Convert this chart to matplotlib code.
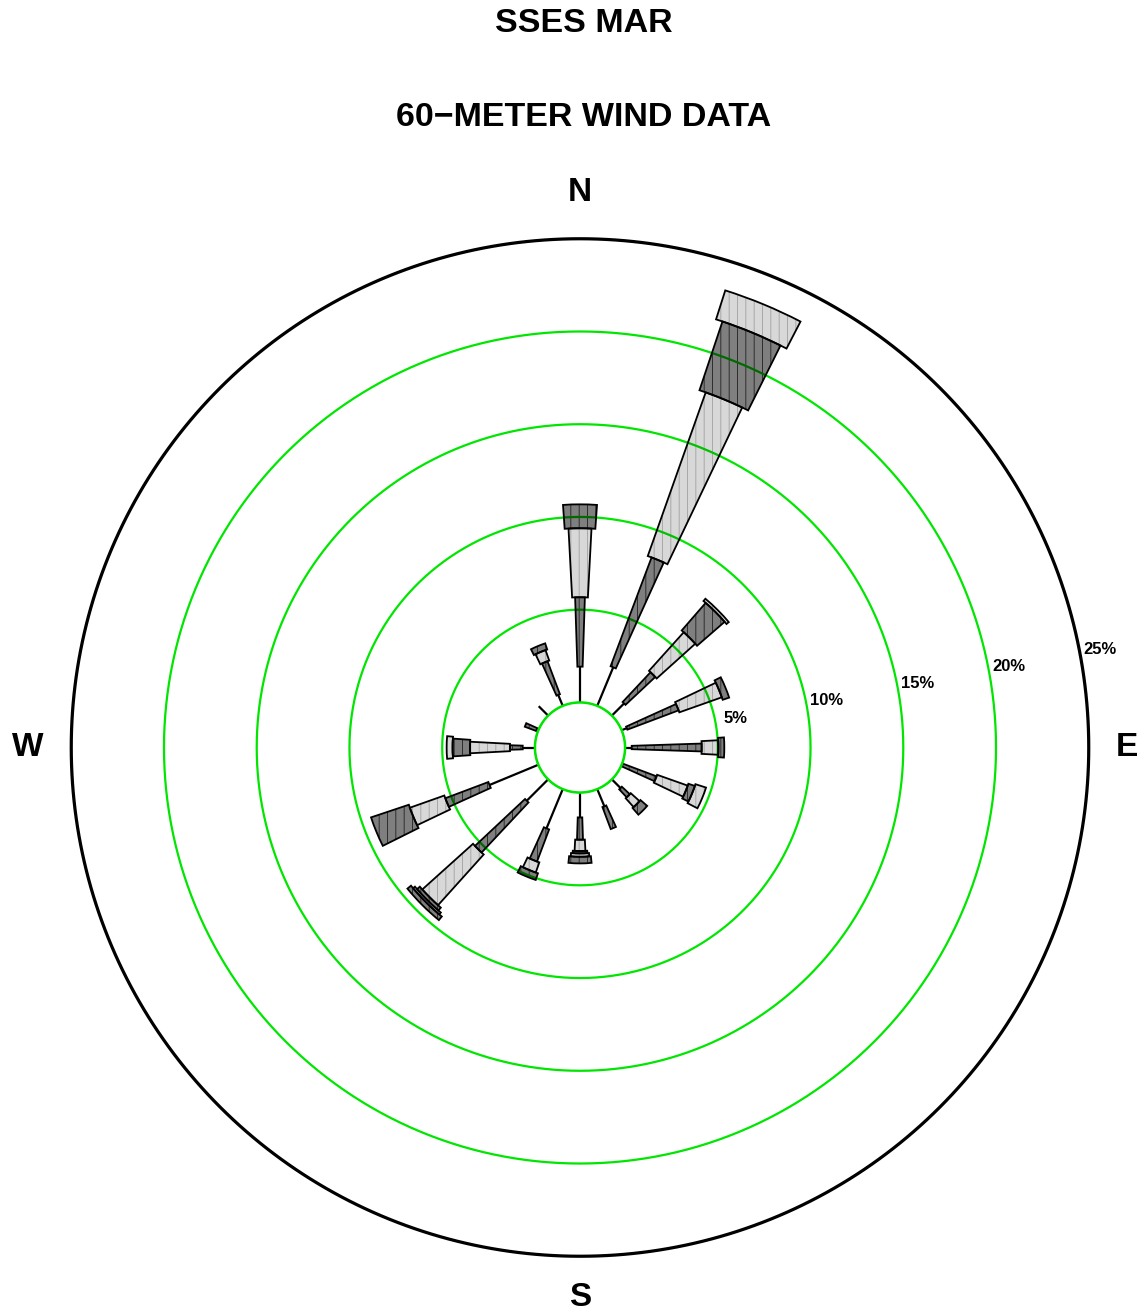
import numpy as np
import matplotlib
matplotlib.use("Agg")
import matplotlib.pyplot as plt

plt.rcParams['font.family'] = ['Liberation Sans', 'DejaVu Sans']
plt.rcParams['hatch.linewidth'] = 0.6

# ---------------- data (frequency %, per speed class, per direction) ----------
directions = ['N', 'NNE', 'NE', 'ENE', 'E', 'ESE', 'SE', 'SSE',
              'S', 'SSW', 'SW', 'WSW', 'W', 'WNW', 'NW', 'NNW']
class1 = [1.93, 2.25, 0.93, 0.30, 0.36, 0.05, 0.66, 1.00, 1.34, 2.29, 1.63, 2.85, 0.66, 0.10, 0.72, 0.64]
class2 = [3.74, 6.27, 2.20, 2.95, 3.77, 1.93, 0.59, 1.27, 1.20, 1.85, 3.70, 2.48, 0.69, 0.65, 0.00, 1.90]
class3 = [3.72, 9.36, 2.80, 2.43, 0.90, 1.75, 0.64, 0.00, 0.61, 0.58, 3.68, 1.97, 2.15, 0.00, 0.00, 0.60]
class4 = [1.29, 3.91, 1.97, 0.37, 0.32, 0.37, 0.48, 0.00, 0.13, 0.38, 0.20, 2.15, 0.94, 0.00, 0.00, 0.35]
class5 = [0.00, 1.64, 0.16, 0.00, 0.00, 0.60, 0.00, 0.00, 0.18, 0.00, 0.13, 0.00, 0.32, 0.00, 0.00, 0.00]
class6 = [0.00, 0.00, 0.00, 0.00, 0.00, 0.00, 0.00, 0.00, 0.36, 0.00, 0.25, 0.00, 0.00, 0.00, 0.00, 0.00]

ring_values = [5, 10, 15, 20]
outer_value = 25
ring_labels = ['5%', '10%', '15%', '20%', '25%']
title_lines = ['SSES MAR', '60\u2212METER WIND DATA']
compass = ['N', 'E', 'S', 'W']

# ---------------- style ----------------
GREEN = '#00e600'
DARK = '#7f7f7f'
LIGHT = '#d8d8d8'
class_widths = [0.065, 0.105, 0.14, 0.17, 0.20]   # radians, classes 2..6
class_face = [DARK, LIGHT, DARK, LIGHT, DARK]
class_hatchc = ['#202020', '#a0a0a0', '#202020', '#a0a0a0', '#202020']
ring_over = ['#006a00', '#00c000', '#006a00', '#00c000', '#006a00']

W, H = 1144, 1314
fig = plt.figure(figsize=(W / 100, H / 100), dpi=100)
cx, cy, R = 580, 747.5, 508.75
ax = fig.add_axes([(cx - R) / W, (H - cy - R) / H, 2 * R / W, 2 * R / H],
                  projection='polar')
ax.set_theta_zero_location('N')
ax.set_theta_direction(-1)
ax.set_ylim(0, outer_value)
ax.set_rorigin(-2.43)
ax.set_xticks([])
ax.set_yticks([])
ax.grid(False)
for sp in ax.spines.values():
    sp.set_visible(False)

theta = np.deg2rad(np.arange(len(directions)) * 22.5)
circ = np.linspace(0, 2 * np.pi, 721)

# outer black circle
ax.plot(circ, np.full_like(circ, outer_value), color='black', lw=2.3,
        solid_capstyle='butt', clip_on=False, zorder=1)
# green rings
for r in ring_values:
    ax.plot(circ, np.full_like(circ, r), color=GREEN, lw=1.6, zorder=1,
            solid_capstyle='butt', clip_on=False)
# calm circle
ax.plot(circ, np.zeros_like(circ), color=GREEN, lw=1.8, zorder=5,
        solid_capstyle='butt', clip_on=False)

# class 1: thin line
for th, v in zip(theta, class1):
    if v > 0:
        ax.plot([th, th], [0, v], color='black', lw=1.6,
                solid_capstyle='butt', zorder=2)

# classes 2..6: wedges
classes = [class2, class3, class4, class5, class6]
bottom = np.array(class1, dtype=float)
for k, vals in enumerate(classes):
    vals = np.array(vals, dtype=float)
    mask = vals > 0
    if mask.any():
        ax.bar(theta[mask], vals[mask], width=class_widths[k],
               bottom=bottom[mask], color=class_face[k],
               edgecolor=class_hatchc[k], linewidth=0,
               hatch='||', zorder=3)
        ax.bar(theta[mask], vals[mask], width=class_widths[k],
               bottom=bottom[mask], fill=False, edgecolor='black',
               linewidth=1.3, zorder=4)
        # rings showing through the petals
        w = class_widths[k]
        for th, b, v in zip(theta[mask], bottom[mask], vals[mask]):
            for r in ring_values:
                if b < r < b + v:
                    seg = np.linspace(th - w / 2, th + w / 2, 20)
                    ax.plot(seg, np.full_like(seg, r), color=ring_over[k],
                            lw=1.6, zorder=3.5, solid_capstyle='butt')
    bottom = bottom + vals

# ring labels
lab_th = np.deg2rad(79.3)
for r, lab in zip(ring_values + [outer_value], ring_labels):
    ax.text(lab_th, r + 1.1, lab, fontsize=12, fontweight='bold',
            ha='center', va='center', clip_on=False)

# compass labels
compass_r = [27.5, 27.05, 27.2, 27.35]
for i, lab in enumerate(compass):
    ax.text(np.deg2rad(i * 90), compass_r[i], lab, fontsize=24,
            fontweight='bold', ha='center', va='center', clip_on=False)

# titles
fig.text(584 / W, 1 - 24 / H, title_lines[0], fontsize=24.5,
         fontweight='bold', ha='center', va='center')
fig.text(584 / W, 1 - 117 / H, title_lines[1], fontsize=24.5,
         fontweight='bold', ha='center', va='center')

fig.savefig('out.png', dpi=100)
